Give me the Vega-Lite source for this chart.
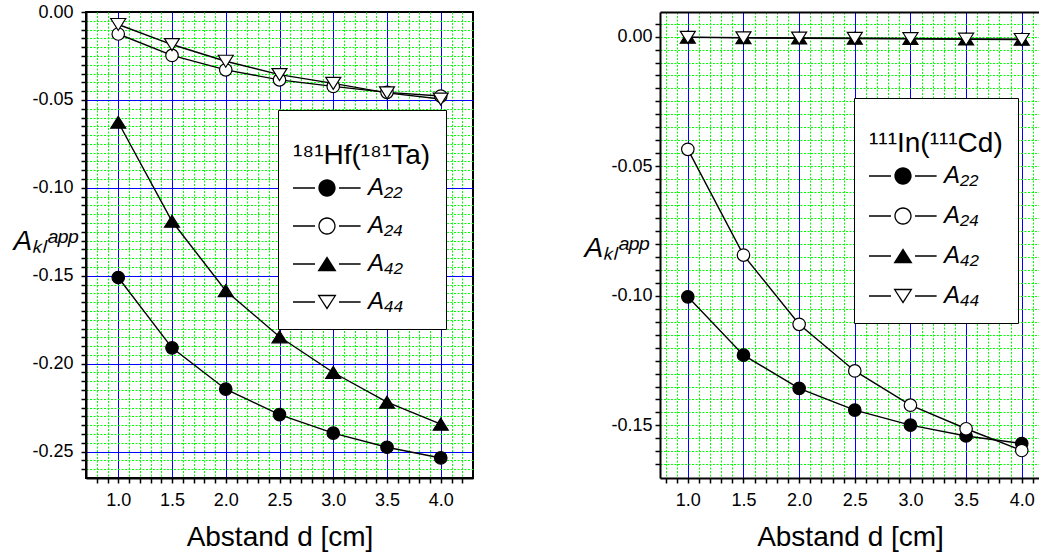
{
  "$schema": "https://vega.github.io/schema/vega-lite/v6.json",
  "background": "white",
  "padding": {"left": 12, "top": 2, "right": 0, "bottom": 0},
  "autosize": {"type": "pad"},
  "config": {"font": "Liberation Sans", "view": {"stroke": null}},
  "datasets": {
    "hf": [
      {"series": "A22", "d": 1.0, "A": -0.151},
      {"series": "A22", "d": 1.5, "A": -0.191},
      {"series": "A22", "d": 2.0, "A": -0.2145},
      {"series": "A22", "d": 2.5, "A": -0.229},
      {"series": "A22", "d": 3.0, "A": -0.2395},
      {"series": "A22", "d": 3.5, "A": -0.2475},
      {"series": "A22", "d": 4.0, "A": -0.2536},
      {"series": "A24", "d": 1.0, "A": -0.0125},
      {"series": "A24", "d": 1.5, "A": -0.0247},
      {"series": "A24", "d": 2.0, "A": -0.0329},
      {"series": "A24", "d": 2.5, "A": -0.0386},
      {"series": "A24", "d": 3.0, "A": -0.0423},
      {"series": "A24", "d": 3.5, "A": -0.0457},
      {"series": "A24", "d": 4.0, "A": -0.0478},
      {"series": "A42", "d": 1.0, "A": -0.0627},
      {"series": "A42", "d": 1.5, "A": -0.119},
      {"series": "A42", "d": 2.0, "A": -0.1585},
      {"series": "A42", "d": 2.5, "A": -0.1847},
      {"series": "A42", "d": 3.0, "A": -0.205},
      {"series": "A42", "d": 3.5, "A": -0.2219},
      {"series": "A42", "d": 4.0, "A": -0.2344},
      {"series": "A44", "d": 1.0, "A": -0.0071},
      {"series": "A44", "d": 1.5, "A": -0.0185},
      {"series": "A44", "d": 2.0, "A": -0.028},
      {"series": "A44", "d": 2.5, "A": -0.0356},
      {"series": "A44", "d": 3.0, "A": -0.0406},
      {"series": "A44", "d": 3.5, "A": -0.046},
      {"series": "A44", "d": 4.0, "A": -0.0495}
    ],
    "in": [
      {"series": "A22", "d": 1.0, "A": -0.1004},
      {"series": "A22", "d": 1.5, "A": -0.1229},
      {"series": "A22", "d": 2.0, "A": -0.1357},
      {"series": "A22", "d": 2.5, "A": -0.1441},
      {"series": "A22", "d": 3.0, "A": -0.1499},
      {"series": "A22", "d": 3.5, "A": -0.1541},
      {"series": "A22", "d": 4.0, "A": -0.157},
      {"series": "A24", "d": 1.0, "A": -0.0435},
      {"series": "A24", "d": 1.5, "A": -0.0843},
      {"series": "A24", "d": 2.0, "A": -0.111},
      {"series": "A24", "d": 2.5, "A": -0.129},
      {"series": "A24", "d": 3.0, "A": -0.1422},
      {"series": "A24", "d": 3.5, "A": -0.1513},
      {"series": "A24", "d": 4.0, "A": -0.1597},
      {"series": "A42", "d": 1.0, "A": -0.0002},
      {"series": "A42", "d": 1.5, "A": -0.0004},
      {"series": "A42", "d": 2.0, "A": -0.0005},
      {"series": "A42", "d": 2.5, "A": -0.0006},
      {"series": "A42", "d": 3.0, "A": -0.0007},
      {"series": "A42", "d": 3.5, "A": -0.0009},
      {"series": "A42", "d": 4.0, "A": -0.001},
      {"series": "A44", "d": 1.0, "A": -0.0003},
      {"series": "A44", "d": 1.5, "A": -0.0005},
      {"series": "A44", "d": 2.0, "A": -0.0006},
      {"series": "A44", "d": 2.5, "A": -0.0007},
      {"series": "A44", "d": 3.0, "A": -0.0008},
      {"series": "A44", "d": 3.5, "A": -0.001},
      {"series": "A44", "d": 4.0, "A": -0.0011}
    ]
  },
  "spacing": 187,
  "bounds": "flush",
  "resolve": {
    "scale": {"shape": "independent", "fill": "independent"},
    "legend": {"shape": "independent", "fill": "independent"}
  },
  "hconcat": [
    {
      "width": 387,
      "height": 466,
      "data": {"name": "hf"},
      "view": {"stroke": "black", "strokeWidth": 2},
      "resolve": {"scale": {"shape": "independent"}, "legend": {"shape": "independent"}},
      "encoding": {
        "x": {
          "field": "d", "type": "quantitative",
          "scale": {"domain": [0.7, 4.3], "nice": false, "zero": false},
          "axis": {
            "orient": "bottom",
            "values": [0.8,0.9,1,1.1,1.2,1.3,1.4,1.5,1.6,1.7,1.8,1.9,2,2.1,2.2,2.3,2.4,2.5,2.6,2.7,2.8,2.9,3,3.1,3.2,3.3,3.4,3.5,3.6,3.7,3.8,3.9,4,4.1,4.2],
            "title": "Abstand d [cm]",
            "titleFont": "Liberation Sans", "titleFontSize": 28, "titleFontWeight": "normal", "titleColor": "black", "titlePadding": 14,
            "labelExpr": "abs(datum.value*2 - round(datum.value*2)) < 1e-6 ? format(datum.value, '.1f') : ''",
            "labelFont": "Liberation Sans", "labelFontSize": 18, "labelColor": "black", "labelPadding": 8,
            "labelOverlap": false, "labelFlush": false, "labelBound": false,
            "tickSize": 5, "tickColor": "black", "tickWidth": 1.5,
            "grid": true,
            "gridColor": {"condition": {"test": "abs(datum.value*2 - round(datum.value*2)) < 1e-6", "value": "#0000ff"}, "value": "#00ff00"},
            "gridDash": {"condition": {"test": "abs(datum.value*2 - round(datum.value*2)) < 1e-6", "value": []}, "value": [2, 1.5]},
            "gridWidth": 1, "gridOpacity": 1,
            "domainColor": "black", "domainWidth": 2
          }
        },
        "y": {
          "field": "A", "type": "quantitative",
          "scale": {"domain": [-0.265, 0], "nice": false, "zero": false},
          "axis": {
            "orient": "left",
            "values": [-0.26,-0.255,-0.25,-0.245,-0.24,-0.235,-0.23,-0.225,-0.22,-0.215,-0.21,-0.205,-0.2,-0.195,-0.19,-0.185,-0.18,-0.175,-0.17,-0.165,-0.16,-0.155,-0.15,-0.145,-0.14,-0.135,-0.13,-0.125,-0.12,-0.115,-0.11,-0.105,-0.1,-0.095,-0.09,-0.085,-0.08,-0.075,-0.07,-0.065,-0.06,-0.055,-0.05,-0.045,-0.04,-0.035,-0.03,-0.025,-0.02,-0.015,-0.01,-0.005,0],
            "title": "Aₖₗᵃᵖᵖ",
            "titleAngle": 0, "titleAlign": "left", "titleBaseline": "alphabetic",
            "titleX": -73, "titleY": 237,
            "titleFont": "Liberation Sans", "titleFontSize": 28, "titleFontStyle": "italic", "titleFontWeight": "normal", "titleColor": "black",
            "labelExpr": "abs(datum.value*20 - round(datum.value*20)) < 1e-6 ? replace(format(datum.value, '.2f'), '−', '-') : ''",
            "labelFont": "Liberation Sans", "labelFontSize": 18, "labelColor": "black", "labelPadding": 8,
            "labelOverlap": false, "labelFlush": false, "labelBound": false,
            "tickSize": 5, "tickColor": "black", "tickWidth": 1.5,
            "grid": true,
            "gridColor": {"condition": {"test": "abs(datum.value*20 - round(datum.value*20)) < 1e-6", "value": "#0000ff"}, "value": "#00ff00"},
            "gridDash": {"condition": {"test": "abs(datum.value*20 - round(datum.value*20)) < 1e-6", "value": []}, "value": [2, 1.5]},
            "gridOpacity": {"condition": {"test": "datum.value === 0", "value": 0}, "value": 1},
            "gridWidth": 1,
            "domainColor": "black", "domainWidth": 2
          }
        }
      },
      "layer": [
        {
          "mark": {"type": "line", "color": "black", "strokeWidth": 1.4},
          "encoding": {"detail": {"field": "series", "type": "nominal"}}
        },
        {
          "mark": {"type": "point", "filled": true, "stroke": "black", "strokeWidth": 1.2, "opacity": 1, "size": 156},
          "encoding": {
            "shape": {
              "field": "series", "type": "nominal",
              "scale": {"domain": ["A22", "A24", "A42", "A44"], "range": ["circle", "circle", "M-1.2,0.96L1.2,0.96L0,-0.96Z", "M-1.2,-0.96L1.2,-0.96L0,0.96Z"]},
              "legend": null
            },
            "fill": {
              "field": "series", "type": "nominal",
              "scale": {"domain": ["A22", "A24", "A42", "A44"], "range": ["black", "white", "black", "white"]},
              "legend": null
            }
          }
        },
        {
          "transform": [{"filter": "false"}],
          "mark": {"type": "point", "filled": true, "color": "black", "opacity": 1, "strokeWidth": 0},
          "encoding": {
            "shape": {
              "field": "series", "type": "nominal",
              "scale": {"domain": ["A22", "A24", "A42", "A44"], "range": [
                "M-1,-0.036H0.222V0.036H-1ZM1.556,-0.036H2.756V0.036H1.556ZM1.369,0A0.48,0.48,0,1,1,0.409,0A0.48,0.48,0,1,1,1.369,0Z",
                "M-1,-0.036H0.222V0.036H-1ZM1.556,-0.036H2.756V0.036H1.556ZM1.369,0A0.48,0.48,0,1,1,0.409,0A0.48,0.48,0,1,1,1.369,0ZM1.297,0A0.408,0.408,0,1,0,0.481,0A0.408,0.408,0,1,0,1.297,0Z",
                "M-1,-0.036H0.222V0.036H-1ZM1.556,-0.036H2.756V0.036H1.556ZM0.359,0.397L1.419,0.397L0.889,-0.428Z",
                "M-1,-0.036H0.222V0.036H-1ZM1.556,-0.036H2.756V0.036H1.556ZM0.359,-0.397L1.419,-0.397L0.889,0.428ZM0.491,-0.325L0.889,0.294L1.287,-0.325Z"
              ]},
              "legend": {
                "orient": "none", "legendX": 192, "legendY": 98,
                "title": ["", "¹⁸¹Hf(¹⁸¹Ta)"],
                "titleFont": "Liberation Sans", "titleFontSize": 28, "titleFontWeight": "normal", "titleColor": "black", "titleLineHeight": 17, "titlePadding": 0,
                "labelExpr": "datum.label === 'A22' ? 'A₂₂' : datum.label === 'A24' ? 'A₂₄' : datum.label === 'A42' ? 'A₄₂' : 'A₄₄'",
                "labelFont": "Liberation Sans", "labelFontSize": 24, "labelFontStyle": "italic", "labelColor": "black", "labelOffset": 39,
                "symbolSize": 1296, "symbolStrokeWidth": 0, "symbolFillColor": "black", "symbolOpacity": 1,
                "rowPadding": 8, "padding": 15,
                "strokeColor": "black", "fillColor": "white"
              }
            }
          }
        }
      ]
    },
    {
      "width": 380,
      "height": 466,
      "data": {"name": "in"},
      "view": {"stroke": null},
      "resolve": {"scale": {"shape": "independent"}, "legend": {"shape": "independent"}},
      "encoding": {
        "x": {
          "field": "d", "type": "quantitative",
          "scale": {"domain": [0.75, 4.164], "nice": false, "zero": false},
          "axis": {
            "orient": "bottom",
            "values": [0.8,0.9,1,1.1,1.2,1.3,1.4,1.5,1.6,1.7,1.8,1.9,2,2.1,2.2,2.3,2.4,2.5,2.6,2.7,2.8,2.9,3,3.1,3.2,3.3,3.4,3.5,3.6,3.7,3.8,3.9,4,4.1],
            "title": "Abstand d [cm]",
            "titleFont": "Liberation Sans", "titleFontSize": 28, "titleFontWeight": "normal", "titleColor": "black", "titlePadding": 14,
            "labelExpr": "abs(datum.value*2 - round(datum.value*2)) < 1e-6 ? format(datum.value, '.1f') : ''",
            "labelFont": "Liberation Sans", "labelFontSize": 18, "labelColor": "black", "labelPadding": 8,
            "labelOverlap": false, "labelFlush": false, "labelBound": false,
            "tickSize": 5, "tickColor": "black", "tickWidth": 1.5,
            "grid": true,
            "gridColor": {"condition": {"test": "abs(datum.value*2 - round(datum.value*2)) < 1e-6", "value": "#0000ff"}, "value": "#00ff00"},
            "gridDash": {"condition": {"test": "abs(datum.value*2 - round(datum.value*2)) < 1e-6", "value": []}, "value": [2, 1.5]},
            "gridWidth": 1, "gridOpacity": 1,
            "domainColor": "black", "domainWidth": 2
          }
        },
        "y": {
          "field": "A", "type": "quantitative",
          "scale": {"domain": [-0.1703, 0.0095], "nice": false, "zero": false},
          "axis": {
            "orient": "left",
            "values": [-0.165,-0.16,-0.155,-0.15,-0.145,-0.14,-0.135,-0.13,-0.125,-0.12,-0.115,-0.11,-0.105,-0.1,-0.095,-0.09,-0.085,-0.08,-0.075,-0.07,-0.065,-0.06,-0.055,-0.05,-0.045,-0.04,-0.035,-0.03,-0.025,-0.02,-0.015,-0.01,-0.005,0,0.005,0.0095],
            "title": "Aₖₗᵃᵖᵖ",
            "titleAngle": 0, "titleAlign": "left", "titleBaseline": "alphabetic",
            "titleX": -76, "titleY": 244,
            "titleFont": "Liberation Sans", "titleFontSize": 28, "titleFontStyle": "italic", "titleFontWeight": "normal", "titleColor": "black",
            "labelExpr": "abs(datum.value*20 - round(datum.value*20)) < 1e-6 ? replace(format(datum.value, '.2f'), '−', '-') : ''",
            "labelFont": "Liberation Sans", "labelFontSize": 18, "labelColor": "black", "labelPadding": 3,
            "labelOverlap": false, "labelFlush": false, "labelBound": false,
            "tickSize": 5, "tickColor": "black", "tickWidth": 1.5,
            "tickOpacity": {"condition": {"test": "datum.value > 0.009", "value": 0}, "value": 1},
            "grid": true,
            "gridColor": {"condition": {"test": "datum.value > 0.009", "value": "black"}, "value": "#00ff00"},
            "gridDash": {"condition": {"test": "datum.value > 0.009", "value": []}, "value": [2, 1.5]},
            "gridWidth": {"condition": {"test": "datum.value > 0.009", "value": 2}, "value": 1},
            "gridOpacity": 1,
            "domainColor": "black", "domainWidth": 2
          }
        }
      },
      "layer": [
        {
          "mark": {"type": "line", "color": "black", "strokeWidth": 1.4},
          "encoding": {"detail": {"field": "series", "type": "nominal"}}
        },
        {
          "mark": {"type": "point", "filled": true, "stroke": "black", "strokeWidth": 1.2, "opacity": 1, "size": 156},
          "encoding": {
            "shape": {
              "field": "series", "type": "nominal",
              "scale": {"domain": ["A22", "A24", "A42", "A44"], "range": ["circle", "circle", "M-1.2,0.96L1.2,0.96L0,-0.96Z", "M-1.2,-0.96L1.2,-0.96L0,0.96Z"]},
              "legend": null
            },
            "fill": {
              "field": "series", "type": "nominal",
              "scale": {"domain": ["A22", "A24", "A42", "A44"], "range": ["black", "white", "black", "white"]},
              "legend": null
            }
          }
        },
        {
          "transform": [{"filter": "false"}],
          "mark": {"type": "point", "filled": true, "color": "black", "opacity": 1, "strokeWidth": 0},
          "encoding": {
            "shape": {
              "field": "series", "type": "nominal",
              "scale": {"domain": ["A22", "A24", "A42", "A44"], "range": [
                "M-1,-0.036H0.222V0.036H-1ZM1.556,-0.036H2.756V0.036H1.556ZM1.369,0A0.48,0.48,0,1,1,0.409,0A0.48,0.48,0,1,1,1.369,0Z",
                "M-1,-0.036H0.222V0.036H-1ZM1.556,-0.036H2.756V0.036H1.556ZM1.369,0A0.48,0.48,0,1,1,0.409,0A0.48,0.48,0,1,1,1.369,0ZM1.297,0A0.408,0.408,0,1,0,0.481,0A0.408,0.408,0,1,0,1.297,0Z",
                "M-1,-0.036H0.222V0.036H-1ZM1.556,-0.036H2.756V0.036H1.556ZM0.359,0.397L1.419,0.397L0.889,-0.428Z",
                "M-1,-0.036H0.222V0.036H-1ZM1.556,-0.036H2.756V0.036H1.556ZM0.359,-0.397L1.419,-0.397L0.889,0.428ZM0.491,-0.325L0.889,0.294L1.287,-0.325Z"
              ]},
              "legend": {
                "orient": "none", "legendX": 194, "legendY": 86,
                "title": ["", "¹¹¹In(¹¹¹Cd)"],
                "titleFont": "Liberation Sans", "titleFontSize": 28, "titleFontWeight": "normal", "titleColor": "black", "titleLineHeight": 17, "titlePadding": 0,
                "labelExpr": "datum.label === 'A22' ? 'A₂₂' : datum.label === 'A24' ? 'A₂₄' : datum.label === 'A42' ? 'A₄₂' : 'A₄₄'",
                "labelFont": "Liberation Sans", "labelFontSize": 24, "labelFontStyle": "italic", "labelColor": "black", "labelOffset": 39,
                "symbolSize": 1296, "symbolStrokeWidth": 0, "symbolFillColor": "black", "symbolOpacity": 1,
                "rowPadding": 10, "padding": 15,
                "strokeColor": "black", "fillColor": "white"
              }
            }
          }
        }
      ]
    }
  ]
}
